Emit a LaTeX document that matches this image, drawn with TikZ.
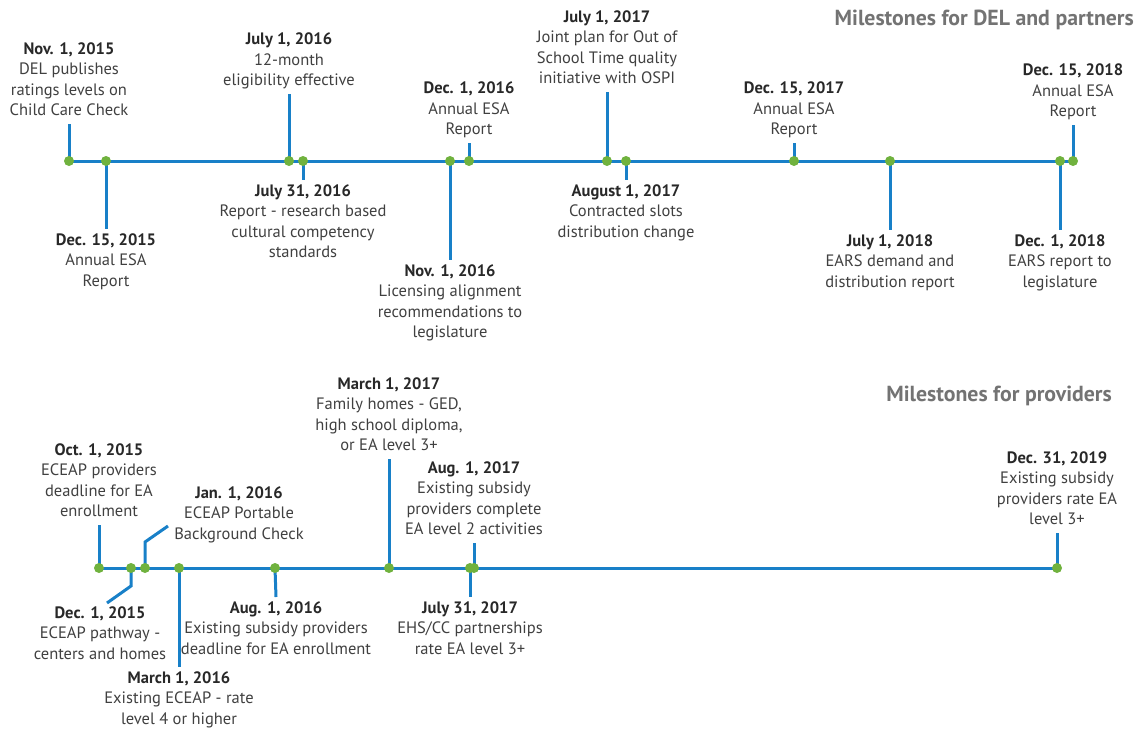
\documentclass[tikz,border=0pt]{standalone}
\usepackage{fontspec}
\setmainfont{PT Sans}
\usetikzlibrary{backgrounds}
\definecolor{tlblue}{RGB}{24,128,200}
\definecolor{dotgreen}{RGB}{112,178,62}
\definecolor{txtgray}{RGB}{64,64,64}
\definecolor{datecol}{RGB}{40,40,40}
\definecolor{ttlgray}{RGB}{115,115,115}
\newcommand{\msdate}[1]{{\bfseries\color{datecol}#1}}
\begin{document}
\begin{tikzpicture}[x=1pt,y=-1pt,
  msdot/.style={circle,fill=dotgreen,inner sep=0pt,minimum size=10pt},
  lbl/.style={align=center,inner sep=0pt,outer sep=2pt,text=txtgray,
    font=\fontsize{16.5}{20.5}\selectfont},
  ttl/.style={inner sep=0pt,text=ttlgray,font=\fontsize{21.8}{26}\selectfont\bfseries},
  stem/.style={draw=tlblue,line width=3pt},
  axis/.style={draw=tlblue,line width=3pt}]
\useasboundingbox (0,0) rectangle (1139,728);

% titles
\node[ttl,anchor=east] (ttl1) at (1134,20) {Milestones for DEL and partners};
\node[ttl,anchor=east] (ttl2) at (1112,396) {Milestones for providers};

% ---------------- top timeline ----------------
\node[msdot] (t1) at (69,161) {};
\node[msdot] (t2) at (106,161) {};
\node[msdot] (t3) at (289,161) {};
\node[msdot] (t4) at (303,161) {};
\node[msdot] (t5) at (450,161) {};
\node[msdot] (t6) at (469,161) {};
\node[msdot] (t7) at (607,161) {};
\node[msdot] (t8) at (626,161) {};
\node[msdot] (t9) at (794,161) {};
\node[msdot] (t10) at (890,161) {};
\node[msdot] (t11) at (1060,161) {};
\node[msdot] (t12) at (1073,161) {};

\node[lbl,anchor=south] (l1) at (69,124) {\strut\msdate{Nov. 1, 2015}\\DEL publishes\\ratings levels on\\Child Care Check\strut};
\node[lbl,anchor=north] (l2) at (106,229) {\strut\msdate{Dec. 15, 2015}\\Annual ESA\\Report\strut};
\node[lbl,anchor=south] (l3) at (289,94) {\strut\msdate{July 1, 2016}\\12-month\\eligibility effective\strut};
\node[lbl,anchor=north] (l4) at (303,180) {\strut\msdate{July 31, 2016}\\Report - research based\\cultural competency\\standards\strut};
\node[lbl,anchor=north] (l5) at (450,260) {\strut\msdate{Nov. 1, 2016}\\Licensing alignment\\recommendations to\\legislature\strut};
\node[lbl,anchor=south] (l6) at (469,143) {\strut\msdate{Dec. 1, 2016}\\Annual ESA\\Report\strut};
\node[lbl,anchor=south] (l7) at (607,92) {\strut\msdate{July 1, 2017}\\Joint plan for Out of\\School Time quality\\initiative with OSPI\strut};
\node[lbl,anchor=north] (l8) at (626,180) {\strut\msdate{August 1, 2017}\\Contracted slots\\distribution change\strut};
\node[lbl,anchor=south] (l9) at (794,143) {\strut\msdate{Dec. 15, 2017}\\Annual ESA\\Report\strut};
\node[lbl,anchor=north] (l10) at (890,230) {\strut\msdate{July 1, 2018}\\EARS demand and\\distribution report\strut};
\node[lbl,anchor=north] (l11) at (1060,230) {\strut\msdate{Dec. 1, 2018}\\EARS report to\\legislature\strut};
\node[lbl,anchor=south] (l12) at (1073,125) {\strut\msdate{Dec. 15, 2018}\\Annual ESA\\Report\strut};

% ---------------- bottom timeline ----------------
\node[msdot] (b1) at (99,568) {};
\node[msdot] (b2) at (131,568) {};
\node[msdot] (b3) at (145,568) {};
\node[msdot] (b4) at (179,568) {};
\node[msdot] (b5) at (275,568) {};
\node[msdot] (b6) at (389,568) {};
\node[msdot] (b7) at (470,568) {};
\node[msdot] (b8) at (474,568) {};
\node[msdot] (b9) at (1057,568) {};

\node[lbl,anchor=south] (m1) at (99,525) {\strut\msdate{Oct. 1, 2015}\\ECEAP providers\\deadline for EA\\enrollment\strut};
\node[lbl,anchor=north] (m2) at (100,602) {\strut\msdate{Dec. 1, 2015}\\ECEAP pathway -\\centers and homes\strut};
\node[lbl,anchor=north] (m3) at (239,482) {\strut\msdate{Jan. 1, 2016}\\ECEAP Portable\\Background Check\strut};
\node[lbl,anchor=north] (m4) at (179,667) {\strut\msdate{March 1, 2016}\\Existing ECEAP - rate\\level 4 or higher\strut};
\node[lbl,anchor=north] (m5) at (276,597) {\strut\msdate{Aug. 1, 2016}\\Existing subsidy providers\\deadline for EA enrollment\strut};
\node[lbl,anchor=south] (m6) at (389,459) {\strut\msdate{March 1, 2017}\\Family homes - GED,\\high school diploma,\\or EA level 3+\strut};
\node[lbl,anchor=north] (m7) at (470,597) {\strut\msdate{July 31, 2017}\\EHS/CC partnerships\\rate EA level 3+\strut};
\node[lbl,anchor=south] (m8) at (474,543) {\strut\msdate{Aug. 1, 2017}\\Existing subsidy\\providers complete\\EA level 2 activities\strut};
\node[lbl,anchor=south] (m9) at (1057,533) {\strut\msdate{Dec. 31, 2019}\\Existing subsidy\\providers rate EA\\level 3+\strut};

\coordinate (d15bend) at (131,586);
\coordinate (d15end) at (107,603);
\coordinate (j16bend) at (145,542);
\coordinate (j16end) at (168,526);

\begin{pgfonlayer}{background}
  \draw[axis] (t1.center) -- (t12.center);
  \draw[axis] (b1.center) -- (b9.center);
  \draw[stem] (t1.center) -- (l1.south);
  \draw[stem] (t2.center) -- (l2.north);
  \draw[stem] (t3.center) -- (l3.south);
  \draw[stem] (t4.center) -- (l4.north);
  \draw[stem] (t5.center) -- (l5.north);
  \draw[stem] (t6.center) -- (l6.south);
  \draw[stem] (t7.center) -- (l7.south);
  \draw[stem] (t8.center) -- (l8.north);
  \draw[stem] (t9.center) -- (l9.south);
  \draw[stem] (t10.center) -- (l10.north);
  \draw[stem] (t11.center) -- (l11.north);
  \draw[stem] (t12.center) -- (l12.south);
  \draw[stem] (b1.center) -- (m1.south);
  \draw[stem] (b2.center) -- (d15bend) -- (d15end);
  \draw[stem] (b3.center) -- (j16bend) -- (j16end);
  \draw[stem] (b4.center) -- (m4.north);
  \draw[stem] (b5.center) -- (m5.north);
  \draw[stem] (b6.center) -- (m6.south);
  \draw[stem] (b7.center) -- (m7.north);
  \draw[stem] (b8.center) -- (m8.south);
  \draw[stem] (b9.center) -- (m9.south);
\end{pgfonlayer}
\end{tikzpicture}
\end{document}
